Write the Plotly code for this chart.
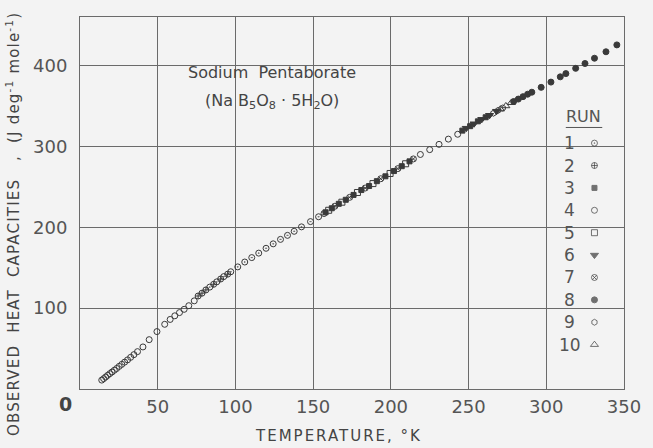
import plotly.graph_objects as go

# Heat capacity observations per run: temperature (K) and Cp (J deg-1 mole-1)
run_ids = ["1", "2", "3", "4", "5", "6", "7", "8", "9", "10"]

run1_t = [83.5, 88, 92.5, 97, 101.5, 106, 110.5, 115, 119.7, 124.3, 129, 133.5,
          137.8, 142.5, 148.3, 153.5]
run1_cp = [126, 132.5, 139, 145, 151, 157, 162.5, 168, 174, 179.5, 185, 190,
           195, 200.5, 207, 213]

run2_t = [76, 78.5, 81, 86, 90.5, 95]
run2_cp = [115, 118.5, 122.5, 129.5, 136, 142]

run3_t = [158, 162, 166.5, 171, 176, 181, 186, 191, 196.5, 202, 207, 212,
          246, 251, 256, 261]
run3_cp = [218.5, 223.5, 229, 234, 240, 246, 251, 257, 263, 269.5, 275.5, 281.5,
           319.5, 325, 331, 336]

run4_t = [14.0, 15.2, 16.5, 17.8, 19.2, 20.6, 22.1, 23.6, 25.2, 26.9, 28.7, 30.6,
          32.6, 34.7, 37.0, 40.5, 44.5, 49.5, 54.5, 58, 61, 64, 67, 70, 73.5,
          219, 225, 231, 237, 243]
run4_cp = [11, 12.8, 14.8, 16.9, 19.0, 21.0, 23.2, 25.4, 28.0, 30.5, 33.2, 36.0,
           39.2, 42.5, 46.2, 52, 61, 71, 80, 86, 90.5, 94.5, 98.5, 103, 109,
           290, 296, 302.5, 309, 315]

run5_t = [160, 168.5, 178.5, 188.5, 199.5, 209.5]
run5_cp = [221, 231, 243, 254, 266.5, 278.5]

run6_t = [248.5, 253.5, 258.5, 263.5, 268]
run6_cp = [322.5, 328, 333.5, 338.5, 343.5]

run7_t = [157, 164, 173.5, 183.5, 193.5, 204.5, 214.5]
run7_cp = [217, 226, 237, 248.5, 260, 272.5, 284.5]

run8_t = [279, 282, 285, 288, 290.7, 296.7, 303, 309, 312.6, 318.9, 324.9, 331,
          338.4, 345.4]
run8_cp = [355.5, 358.5, 361.5, 364.5, 367, 373, 379.5, 386, 390, 396.5, 402.5,
           409, 417, 425.5]

run9_t = [266, 269, 272]
run9_cp = [341, 344.5, 347.5]

run10_t = [270.5, 274, 277.5]
run10_cp = [346, 350, 354]

x_ticks = [50, 100, 150, 200, 250, 300, 350]
y_ticks = [100, 200, 300, 400]

INK = "#3a3a3a"
GRID = "#6a6a6a"
BG = "#f3f3f3"
FONT = "DejaVu Sans"

runs = [
    (run1_t, run1_cp, "circle-open-dot", 6),
    (run2_t, run2_cp, "circle-cross-open", 6),
    (run3_t, run3_cp, "square", 5),
    (run4_t, run4_cp, "circle-open", 6),
    (run5_t, run5_cp, "square-open", 6),
    (run6_t, run6_cp, "triangle-down", 7),
    (run7_t, run7_cp, "circle-x-open", 6),
    (run8_t, run8_cp, "circle", 6),
    (run9_t, run9_cp, "hexagon-open", 6),
    (run10_t, run10_cp, "triangle-up-open", 7),
]

fig = go.Figure()
for rid, (t, cp, sym, sz) in zip(run_ids, runs):
    fig.add_trace(go.Scatter(
        x=t, y=cp, mode="markers", name=rid, showlegend=False,
        marker=dict(symbol=sym, size=sz, color=INK, line=dict(width=1, color=INK)),
    ))

# hand-drawn style legend: number, then symbol, stacked under "RUN"
leg_top = 0.661
leg_step = 0.0602
fig.add_trace(go.Scatter(
    x=[0.9457] * len(runs),
    y=[leg_top - leg_step * i for i in range(len(runs))],
    xaxis="x2", yaxis="y2", mode="markers", showlegend=False, hoverinfo="skip",
    marker=dict(symbol=[r[2] for r in runs], size=[r[3] for r in runs],
                color=INK, line=dict(width=1, color=INK)),
))


def spaced(txt, px):
    return f'<span style="letter-spacing:{px}px">{txt}</span>'


annotations = []
for i, rid in enumerate(run_ids):
    annotations.append(dict(
        text=rid, xref="paper", yref="paper", x=0.900, y=leg_top - leg_step * i,
        showarrow=False, font=dict(family=FONT, size=17, color="#555"),
        xanchor="center", yanchor="middle"))
annotations += [
    dict(text="RUN", xref="paper", yref="paper", x=0.926, y=0.733, showarrow=False,
         font=dict(family=FONT, size=16, color="#555"), xanchor="center", yanchor="middle"),
    dict(text="Sodium  Pentaborate", xref="paper", yref="paper", x=0.353, y=0.852,
         showarrow=False, font=dict(family=FONT, size=16, color="#444"),
         xanchor="center", yanchor="middle"),
    dict(text="(Na B<sub>5</sub>O<sub>8</sub> · 5H<sub>2</sub>O)", xref="paper", yref="paper",
         x=0.353, y=0.774, showarrow=False, font=dict(family=FONT, size=16, color="#444"),
         xanchor="center", yanchor="middle"),
    dict(text=spaced("TEMPERATURE, °K", 2), xref="paper", yref="paper", x=0.476, y=-0.126,
         showarrow=False, font=dict(family=FONT, size=15, color="#444"),
         xanchor="center", yanchor="middle"),
    dict(text=spaced("OBSERVED  HEAT  CAPACITIES   ,  (J deg<sup>-1</sup> mole<sup>-1</sup>)", 1.2),
         xref="paper", yref="paper", x=-0.123, y=0.4435, textangle=-90,
         showarrow=False, font=dict(family=FONT, size=15, color="#444"),
         xanchor="center", yanchor="middle"),
    dict(text="<b>0</b>", xref="paper", yref="paper", x=-0.027, y=-0.040,
         showarrow=False, font=dict(family=FONT, size=19, color="#444"),
         xanchor="center", yanchor="middle"),
]

fig.update_layout(
    width=653, height=448,
    margin=dict(l=80, r=21, t=17, b=59),
    paper_bgcolor=BG, plot_bgcolor=BG,
    annotations=annotations,
    shapes=[dict(type="line", xref="paper", yref="paper", x0=0.893, x1=0.960,
                 y0=0.703, y1=0.703, line=dict(color="#555", width=1))],
    xaxis=dict(range=[0, 350], tickvals=x_ticks, showgrid=True, gridcolor=GRID,
               gridwidth=1, showline=True, linecolor=GRID, mirror=True, zeroline=False,
               ticks="", tickfont=dict(family=FONT, size=18, color="#555"),
               ticklabelstandoff=1),
    yaxis=dict(range=[0, 460], tickvals=y_ticks, showgrid=True, gridcolor=GRID,
               gridwidth=1, showline=True, linecolor=GRID, mirror=True, zeroline=False,
               ticks="", tickfont=dict(family=FONT, size=18, color="#555"),
               ticklabelstandoff=8),
    xaxis2=dict(range=[0, 1], overlaying="x", visible=False),
    yaxis2=dict(range=[0, 1], overlaying="y", visible=False),
)

# drop the page's default body margin so the figure sits at the window origin
fig.write_html("out.html", config={"displayModeBar": False},
               post_script="document.body.style.margin='0';"
                           "document.body.style.background='" + BG + "';")
